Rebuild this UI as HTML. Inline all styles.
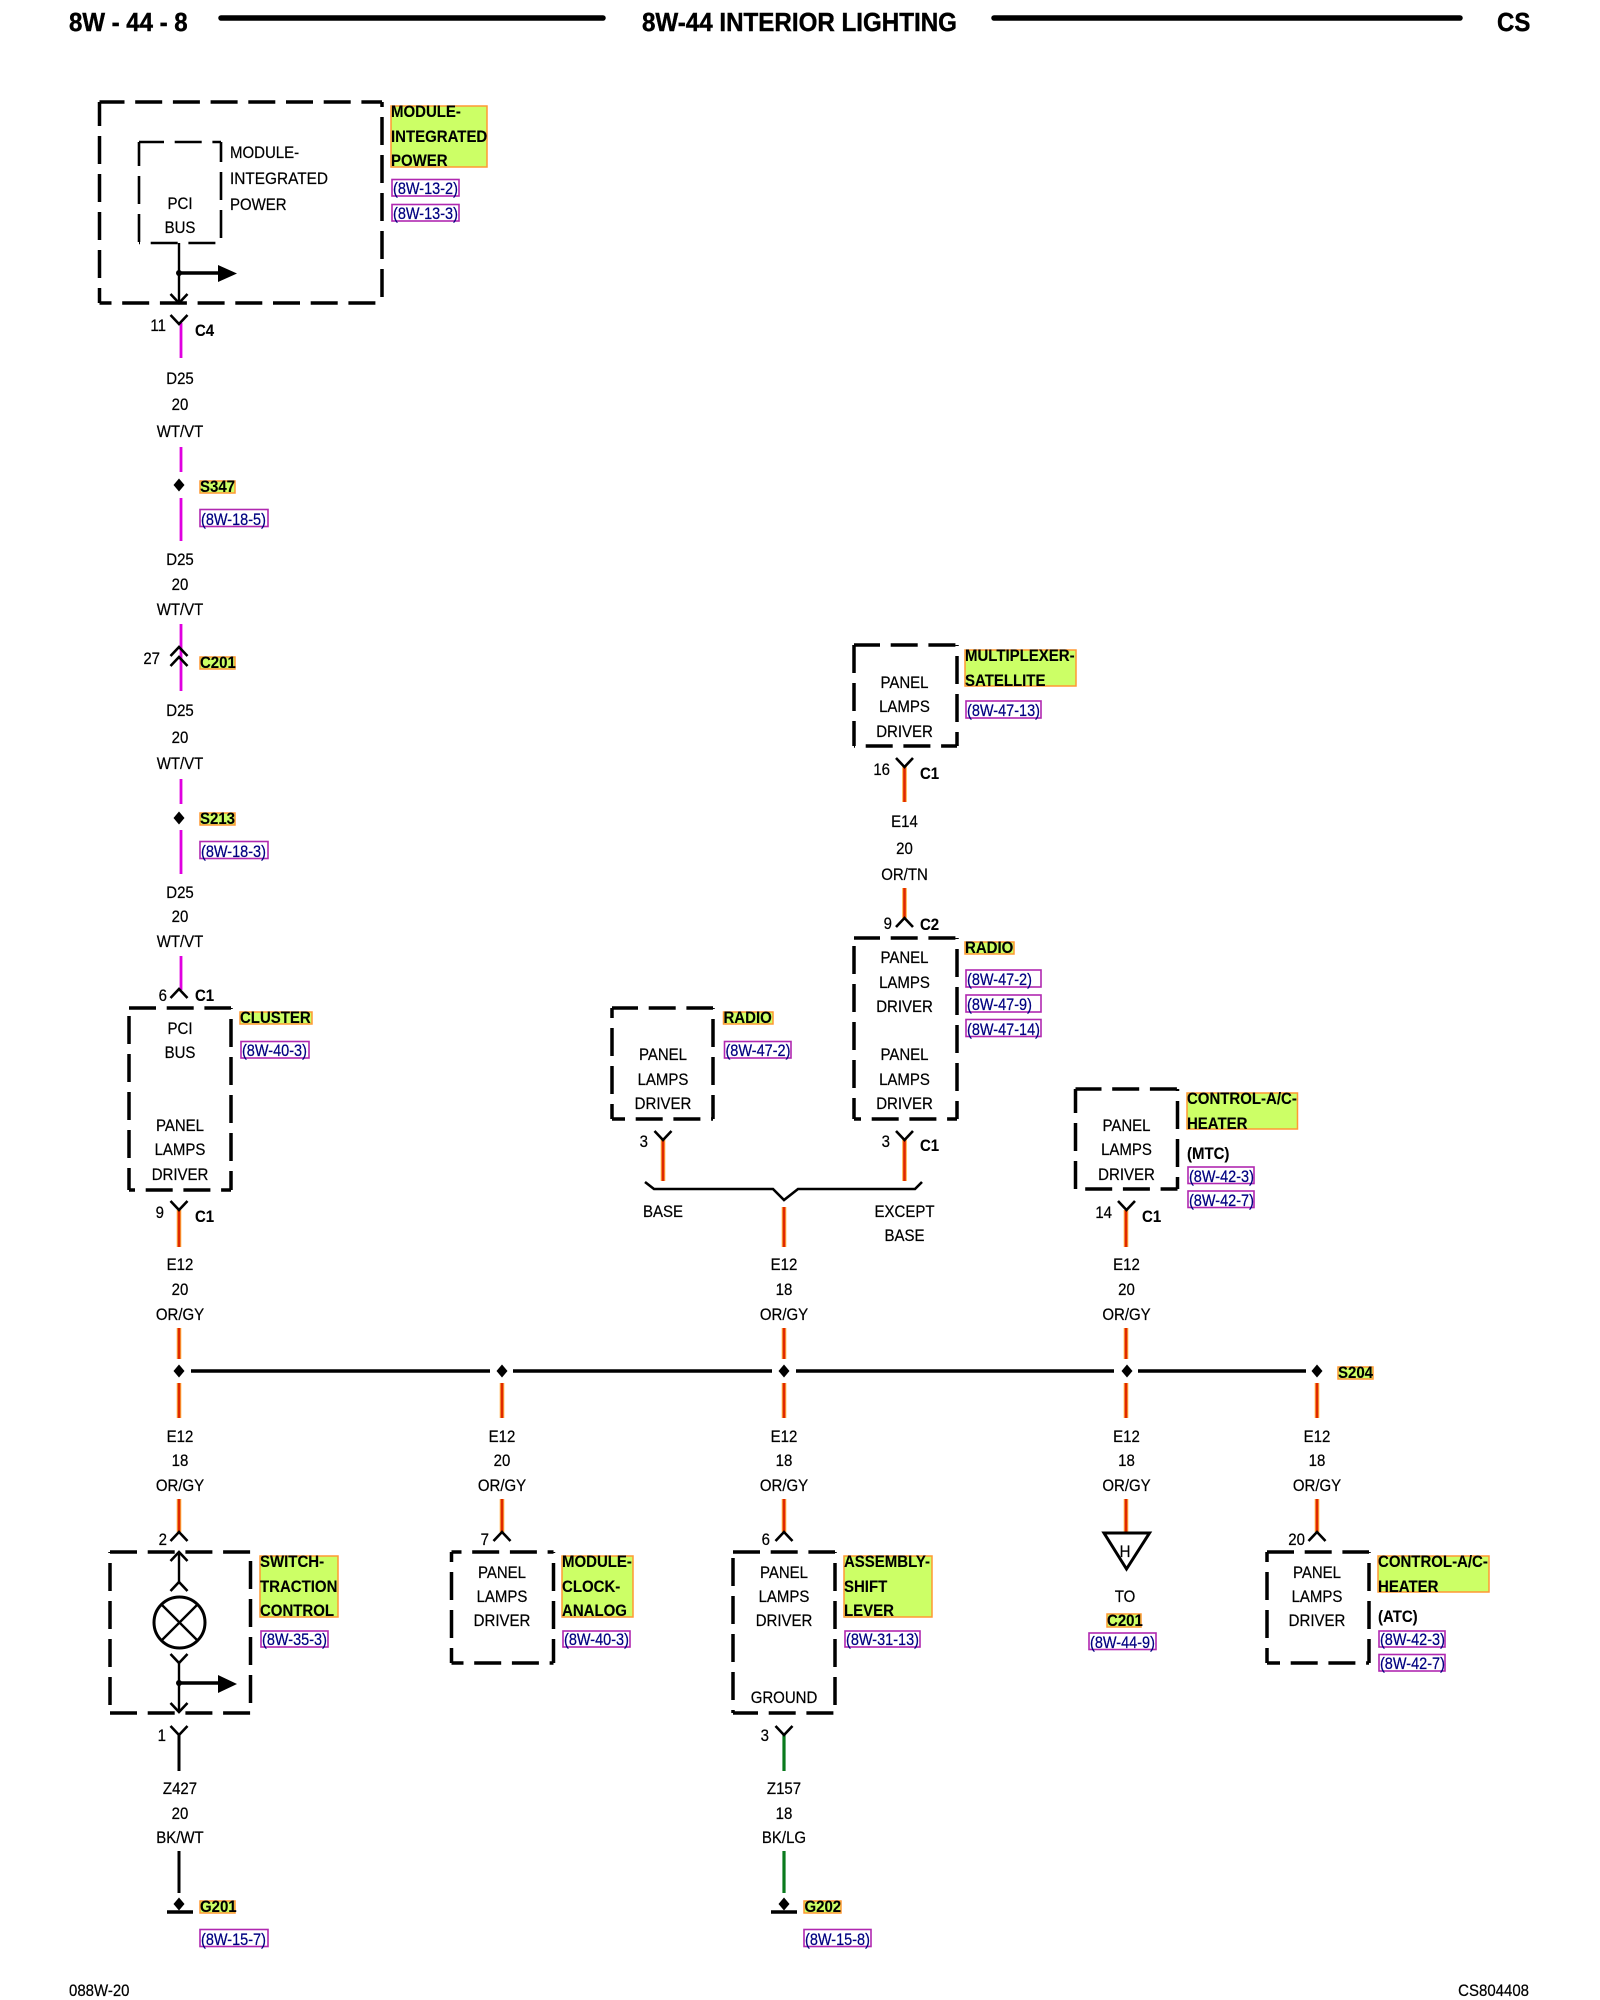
<!DOCTYPE html>
<html><head><meta charset="utf-8"><title>8W-44 Interior Lighting</title>
<style>
html,body{margin:0;padding:0;background:#fff}
svg{display:block}
text{font-family:"Liberation Sans",sans-serif;font-size:15px;fill:#000;stroke:#000;stroke-width:.2;transform-box:fill-box;transform-origin:50% 81%;transform:scaleY(1.12)}
.c{text-anchor:middle}
.e{text-anchor:end}
.b{font-weight:700;fill:#000;stroke-width:.1}
.r{font-size:14.5px;fill:#000080;stroke:#000080;transform:scaleY(1.16)}
.H{font-size:24px;font-weight:700;fill:#000;stroke-width:.4;transform:scaleY(1.06)}
.h,.v,.hi,.vi{fill:none;stroke:#000;stroke-width:3.5}
.h{stroke-dasharray:27 10.7}
.v{stroke-dasharray:28 10}
.l{fill:#ccff66;stroke:#ff9933;stroke-width:1.5}
.f{fill:#fff;stroke:#b028b0;stroke-width:1.6}
.k{fill:none;stroke:#000;stroke-width:2.6}
</style></head>
<body>
<svg xmlns="http://www.w3.org/2000/svg" width="1600" height="2000" viewBox="0 0 1600 2000">
<defs>
<path id="d" d="M0-6.500L5.500 0 0 6.500-5.500 0Z"/>
<path id="u" class="k" d="M-8.5 9L0 0 8.5 9"/>
<path id="y" class="k" d="M-8.5-9L0 0 8.5-9"/>
</defs>
<rect width="1600" height="2000" fill="#fff"/>

<!-- header -->
<text class="H" x="69" y="31">8W - 44 - 8</text>
<text class="H" x="642" y="31" textLength="315" lengthAdjust="spacingAndGlyphs">8W-44 INTERIOR LIGHTING</text>
<text class="H" x="1497" y="31">CS</text>
<path d="M221 18H603M994 18H1460" stroke="#000" stroke-width="5.5" stroke-linecap="round" fill="none"/>
<text x="69" y="1996">088W-20</text>
<text class="e" x="1529" y="1996">CS804408</text>

<!-- magenta wires -->
<path d="M181 323V358M181 447V472M181 498V541M181 624V691M181 779V804M181 830V874M181 956V990" stroke="#f090f0" stroke-width="3.6" fill="none"/>
<path d="M181 323V358M181 447V472M181 498V541M181 624V691M181 779V804M181 830V874M181 956V990" stroke="#e000e0" stroke-width="2.2" fill="none"/>
<!-- orange wires -->
<path d="M179 1210V1247M179 1328V1359M179 1383V1418M179 1499V1532M502 1383V1418M502 1499V1532M784 1207V1247M784 1328V1359M784 1383V1418M784 1499V1532M1126 1210V1247M1126 1328V1359M1126 1383V1418M1126 1499V1533M1317 1383V1418M1317 1499V1532M663 1139V1181M904.5 1139V1181M904.5 766V802M904.5 888V918" stroke="#ffb040" stroke-width="4.6" fill="none"/>
<path d="M179 1210V1247M179 1328V1359M179 1383V1418M179 1499V1532M502 1383V1418M502 1499V1532M784 1207V1247M784 1328V1359M784 1383V1418M784 1499V1532M1126 1210V1247M1126 1328V1359M1126 1383V1418M1126 1499V1533M1317 1383V1418M1317 1499V1532M663 1139V1181M904.5 1139V1181M904.5 766V802M904.5 888V918" stroke="#e02800" stroke-width="2.6" fill="none"/>
<!-- black / green wires -->
<path d="M179 1735V1771M179 1851V1893" stroke="#000" stroke-width="3" fill="none"/>
<path d="M784 1735V1771M784 1851V1893" stroke="#0a7a1e" stroke-width="3.2" fill="none"/>
<!-- bus -->
<path d="M191 1371H490M513 1371H772M796 1371H1114M1138 1371H1306" stroke="#000" stroke-width="3.6" fill="none"/>
<use href="#d" x="179" y="485"/><use href="#d" x="179" y="818"/>
<use href="#d" x="179" y="1371"/><use href="#d" x="502" y="1371"/><use href="#d" x="784" y="1371"/><use href="#d" x="1127" y="1371"/><use href="#d" x="1317" y="1371"/>
<use href="#d" x="179" y="1904"/><use href="#d" x="784" y="1904"/>
<path d="M167 1912H193M771 1912H797" stroke="#000" stroke-width="3.5" fill="none"/>

<!-- Main module box -->
<path class="h" stroke-dashoffset="2" d="M99.5 102H382"/>
<path class="v" stroke-dashoffset="4" d="M99.5 102V303"/>
<path class="v" stroke-dashoffset="23" d="M382 102V303"/>
<path class="h" stroke-dashoffset="15" d="M99.5 303H382"/>
<path class="h" style="stroke-width:2.6" stroke-dashoffset="2" d="M139 142H221"/>
<path class="v" style="stroke-width:2.6" stroke-dashoffset="4" d="M139 142V243"/>
<path class="v" style="stroke-width:2.6" stroke-dashoffset="8" d="M221 142V243"/>
<path class="h" style="stroke-width:2.6" stroke-dashoffset="26" d="M139 243H221"/>
<path d="M179 243V302" stroke="#000" stroke-width="2.4" fill="none"/>
<path d="M179 273H220" stroke="#000" stroke-width="3.5" fill="none"/>
<circle cx="179" cy="273" r="3"/>
<path d="M218 265L237 273.5 218 282Z"/>
<use href="#y" x="179" y="303"/>
<text x="230" y="158">MODULE-</text><text x="230" y="184" textLength="98" lengthAdjust="spacingAndGlyphs">INTEGRATED</text><text x="230" y="210">POWER</text>
<text class="c" x="180" y="209">PCI</text><text class="c" x="180" y="233">BUS</text>
<rect class="l" x="391" y="106" width="96" height="61"/>
<text class="b" x="391" y="117">MODULE-</text><text class="b" x="391" y="142">INTEGRATED</text><text class="b" x="391" y="166">POWER</text>
<rect class="f" x="392" y="179.500" width="67" height="16.500"/><text class="r" x="393" y="194">(8W-13-2)</text>
<rect class="f" x="392" y="204.500" width="67" height="16.500"/><text class="r" x="393" y="219">(8W-13-3)</text>

<!-- D25 column -->
<use href="#y" x="179" y="324"/>
<text class="e" x="166" y="331">11</text><text class="b" x="195" y="336">C4</text>
<text class="c" x="180" y="384">D25</text><text class="c" x="180" y="410">20</text><text class="c" x="180" y="437">WT/VT</text>
<rect class="l" x="200" y="481" width="35" height="12"/><text class="b" x="200" y="492">S347</text>
<rect class="f" x="200" y="509.500" width="68" height="17"/><text class="r" x="201" y="525">(8W-18-5)</text>
<text class="c" x="180" y="565">D25</text><text class="c" x="180" y="590">20</text><text class="c" x="180" y="615">WT/VT</text>
<use href="#u" x="179" y="647"/><use href="#u" x="179" y="657"/>
<text class="e" x="160" y="664">27</text>
<rect class="l" x="200" y="657" width="35" height="12"/><text class="b" x="200" y="668">C201</text>
<text class="c" x="180" y="716">D25</text><text class="c" x="180" y="743">20</text><text class="c" x="180" y="769">WT/VT</text>
<rect class="l" x="200" y="813" width="35" height="12"/><text class="b" x="200" y="824">S213</text>
<rect class="f" x="200" y="841.500" width="68" height="17"/><text class="r" x="201" y="857">(8W-18-3)</text>
<text class="c" x="180" y="898">D25</text><text class="c" x="180" y="922">20</text><text class="c" x="180" y="947">WT/VT</text>
<use href="#u" x="179" y="989"/>
<text class="e" x="167" y="1001">6</text><text class="b" x="195" y="1001">C1</text>

<!-- Cluster -->
<path class="h" d="M129 1008H231"/>
<path class="v" stroke-dashoffset="30" d="M129 1008V1190"/>
<path class="v" stroke-dashoffset="27" d="M231 1008V1190"/>
<path class="h" stroke-dashoffset="21" d="M129 1190H231"/>
<text class="c" x="180" y="1034">PCI</text><text class="c" x="180" y="1058">BUS</text>
<text class="c" x="180" y="1131">PANEL</text><text class="c" x="180" y="1155">LAMPS</text><text class="c" x="180" y="1180">DRIVER</text>
<rect class="l" x="240" y="1012" width="72" height="12"/><text class="b" x="240" y="1023">CLUSTER</text>
<rect class="f" x="241" y="1041.500" width="68" height="16.500"/><text class="r" x="242" y="1056">(8W-40-3)</text>
<use href="#y" x="179" y="1210"/>
<text class="e" x="164" y="1218">9</text><text class="b" x="195" y="1222">C1</text>
<text class="c" x="180" y="1270">E12</text><text class="c" x="180" y="1295">20</text><text class="c" x="180" y="1320">OR/GY</text>
<text class="c" x="180" y="1442">E12</text><text class="c" x="180" y="1466">18</text><text class="c" x="180" y="1491">OR/GY</text>

<!-- Switch traction control -->
<use href="#u" x="179" y="1532"/>
<text class="e" x="167" y="1545">2</text>
<path class="h" d="M110 1552H250.500"/>
<path class="v" stroke-dashoffset="27" d="M110 1552V1713"/>
<path class="v" stroke-dashoffset="29" d="M250.500 1552V1713"/>
<path class="h" d="M110 1713H252"/>
<use href="#u" x="179" y="1552"/><use href="#u" x="179" y="1582"/>
<path d="M179 1552V1583M179 1663V1712" stroke="#000" stroke-width="2.4" fill="none"/>
<circle cx="179.500" cy="1622.500" r="25.500" fill="#fff" stroke="#000" stroke-width="3"/>
<path d="M161.500 1604.500L197.500 1640.500M197.500 1604.500L161.500 1640.500" stroke="#000" stroke-width="2.4" fill="none"/>
<use href="#y" x="179" y="1663"/><use href="#y" x="179" y="1712"/>
<path d="M179 1683H220" stroke="#000" stroke-width="3.5" fill="none"/>
<circle cx="179" cy="1683" r="3"/>
<path d="M218 1675L237 1684 218 1693Z"/>
<rect class="l" x="260" y="1556" width="78" height="61"/>
<text class="b" x="260" y="1567">SWITCH-</text><text class="b" x="260" y="1592">TRACTION</text><text class="b" x="260" y="1616">CONTROL</text>
<rect class="f" x="261" y="1631" width="67" height="16"/><text class="r" x="262" y="1645">(8W-35-3)</text>
<use href="#y" x="179" y="1735"/>
<text class="e" x="166" y="1741">1</text>
<text class="c" x="180" y="1794">Z427</text><text class="c" x="180" y="1819">20</text><text class="c" x="180" y="1843">BK/WT</text>
<rect class="l" x="200" y="1901" width="35" height="12"/><text class="b" x="200" y="1912">G201</text>
<rect class="f" x="200" y="1929.500" width="68" height="17"/><text class="r" x="201" y="1945">(8W-15-7)</text>

<!-- Clock analog -->
<text class="c" x="502" y="1442">E12</text><text class="c" x="502" y="1466">20</text><text class="c" x="502" y="1491">OR/GY</text>
<use href="#u" x="502" y="1532"/>
<text class="e" x="489" y="1545">7</text>
<path class="h" stroke-dashoffset="17" d="M451.500 1552H553.500"/>
<path class="v" stroke-dashoffset="18" d="M451.500 1552V1663"/>
<path class="v" stroke-dashoffset="27" d="M553.500 1552V1663"/>
<path class="h" stroke-dashoffset="15" d="M451.500 1663H553.500"/>
<text class="c" x="502" y="1578">PANEL</text><text class="c" x="502" y="1602">LAMPS</text><text class="c" x="502" y="1626">DRIVER</text>
<rect class="l" x="562" y="1556" width="71" height="61"/>
<text class="b" x="562" y="1567">MODULE-</text><text class="b" x="562" y="1592">CLOCK-</text><text class="b" x="562" y="1616">ANALOG</text>
<rect class="f" x="563" y="1631" width="67" height="16"/><text class="r" x="564" y="1645">(8W-40-3)</text>

<!-- Radio left -->
<path class="h" stroke-dashoffset="1" d="M612 1008H713"/>
<path class="v" stroke-dashoffset="18" d="M612 1008V1119"/>
<path class="v" stroke-dashoffset="27" d="M713 1008V1119"/>
<path class="h" stroke-dashoffset="14" d="M612 1119H713"/>
<text class="c" x="663" y="1060">PANEL</text><text class="c" x="663" y="1085">LAMPS</text><text class="c" x="663" y="1109">DRIVER</text>
<rect class="l" x="723.500" y="1012" width="49.500" height="12"/><text class="b" x="723.500" y="1023">RADIO</text>
<rect class="f" x="724.500" y="1041.500" width="66.500" height="16.500"/><text class="r" x="725.500" y="1056">(8W-47-2)</text>
<use href="#y" x="663" y="1140"/>
<text class="e" x="648" y="1147">3</text>
<path class="k" d="M645 1182L654 1189H773L784 1200L798 1189H915L922 1182"/>
<text class="c" x="663" y="1217">BASE</text>

<!-- Center col -->
<text class="c" x="784" y="1270">E12</text><text class="c" x="784" y="1295">18</text><text class="c" x="784" y="1320">OR/GY</text>
<text class="c" x="784" y="1442">E12</text><text class="c" x="784" y="1466">18</text><text class="c" x="784" y="1491">OR/GY</text>
<use href="#u" x="784" y="1532"/>
<text class="e" x="770" y="1545">6</text>
<path class="h" d="M733 1552H835"/>
<path class="v" stroke-dashoffset="32" d="M733 1552V1713"/>
<path class="v" stroke-dashoffset="27" d="M835 1552V1713"/>
<path class="h" stroke-dashoffset="2" d="M733 1713H835"/>
<text class="c" x="784" y="1578">PANEL</text><text class="c" x="784" y="1602">LAMPS</text><text class="c" x="784" y="1626">DRIVER</text><text class="c" x="784" y="1703">GROUND</text>
<rect class="l" x="844" y="1556" width="88" height="61"/>
<text class="b" x="844" y="1567">ASSEMBLY-</text><text class="b" x="844" y="1592">SHIFT</text><text class="b" x="844" y="1616">LEVER</text>
<rect class="f" x="845" y="1631" width="75" height="16"/><text class="r" x="846" y="1645">(8W-31-13)</text>
<use href="#y" x="784" y="1735"/>
<text class="e" x="769" y="1741">3</text>
<text class="c" x="784" y="1794">Z157</text><text class="c" x="784" y="1819">18</text><text class="c" x="784" y="1843">BK/LG</text>
<rect class="l" x="804" y="1901" width="37" height="12"/><text class="b" x="804.500" y="1912">G202</text>
<rect class="f" x="804" y="1929.500" width="67" height="17"/><text class="r" x="805" y="1945">(8W-15-8)</text>

<!-- Multiplexer -->
<path class="h" stroke-dashoffset="1" d="M854 645H957"/>
<path class="v" d="M854 645V746"/>
<path class="v" stroke-dashoffset="27" d="M957 645V746"/>
<path class="h" stroke-dashoffset="26" d="M854 746H957"/>
<text class="c" x="904.500" y="688">PANEL</text><text class="c" x="904.500" y="712">LAMPS</text><text class="c" x="904.500" y="737">DRIVER</text>
<rect class="l" x="965" y="650" width="111" height="36"/>
<text class="b" x="965" y="661">MULTIPLEXER-</text><text class="b" x="965" y="686">SATELLITE</text>
<rect class="f" x="966" y="701" width="75" height="17"/><text class="r" x="967" y="716">(8W-47-13)</text>
<use href="#y" x="904.500" y="767"/>
<text class="e" x="890" y="775">16</text><text class="b" x="920" y="779">C1</text>
<text class="c" x="904.500" y="827">E14</text><text class="c" x="904.500" y="854">20</text><text class="c" x="904.500" y="880">OR/TN</text>
<use href="#u" x="904.500" y="918"/>
<text class="e" x="892" y="929">9</text><text class="b" x="920" y="930">C2</text>

<!-- Radio right -->
<path class="h" stroke-dashoffset="1" d="M854 938H957"/>
<path class="v" stroke-dashoffset="30" d="M854 938V1119"/>
<path class="v" stroke-dashoffset="27" d="M957 938V1119"/>
<path class="h" stroke-dashoffset="20" d="M854 1119H957"/>
<text class="c" x="904.500" y="963">PANEL</text><text class="c" x="904.500" y="988">LAMPS</text><text class="c" x="904.500" y="1012">DRIVER</text>
<text class="c" x="904.500" y="1060">PANEL</text><text class="c" x="904.500" y="1085">LAMPS</text><text class="c" x="904.500" y="1109">DRIVER</text>
<rect class="l" x="965" y="942" width="49" height="12"/><text class="b" x="965" y="953">RADIO</text>
<rect class="f" x="966" y="970" width="75" height="17"/><text class="r" x="967" y="985">(8W-47-2)</text>
<rect class="f" x="966" y="995" width="75" height="17"/><text class="r" x="967" y="1010">(8W-47-9)</text>
<rect class="f" x="966" y="1019.500" width="75" height="17"/><text class="r" x="967" y="1035">(8W-47-14)</text>
<use href="#y" x="904.500" y="1140"/>
<text class="e" x="890" y="1147">3</text><text class="b" x="920" y="1151">C1</text>
<text class="c" x="904.500" y="1217">EXCEPT</text><text class="c" x="904.500" y="1241">BASE</text>

<!-- Heater MTC -->
<path class="h" stroke-dashoffset="1" d="M1075.500 1089H1177.500"/>
<path class="v" stroke-dashoffset="4" d="M1075.500 1089V1189"/>
<path class="v" stroke-dashoffset="26" d="M1177.500 1089V1189"/>
<path class="h" stroke-dashoffset="28" d="M1075.500 1189H1177.500"/>
<text class="c" x="1126.500" y="1131">PANEL</text><text class="c" x="1126.500" y="1155">LAMPS</text><text class="c" x="1126.500" y="1180">DRIVER</text>
<rect class="l" x="1187" y="1093" width="110.500" height="36"/>
<text class="b" x="1187" y="1104">CONTROL-A/C-</text><text class="b" x="1187" y="1129">HEATER</text>
<text class="b" x="1187" y="1159">(MTC)</text>
<rect class="f" x="1188" y="1167" width="66" height="16.500"/><text class="r" x="1189" y="1182">(8W-42-3)</text>
<rect class="f" x="1188" y="1191" width="66" height="16.500"/><text class="r" x="1189" y="1206">(8W-42-7)</text>
<use href="#y" x="1126.500" y="1210"/>
<text class="e" x="1112" y="1218">14</text><text class="b" x="1142" y="1222">C1</text>
<text class="c" x="1126.500" y="1270">E12</text><text class="c" x="1126.500" y="1295">20</text><text class="c" x="1126.500" y="1320">OR/GY</text>
<text class="c" x="1126.500" y="1442">E12</text><text class="c" x="1126.500" y="1466">18</text><text class="c" x="1126.500" y="1491">OR/GY</text>
<path d="M1104 1533H1149.500L1126.500 1569Z" fill="none" stroke="#000" stroke-width="3"/>
<text class="c" x="1125" y="1557">H</text>
<text class="c" x="1125" y="1602">TO</text>
<rect class="l" x="1107" y="1614" width="34" height="13"/><text class="b" x="1107" y="1626">C201</text>
<rect class="f" x="1089" y="1633" width="67" height="16.500"/><text class="r" x="1090" y="1648">(8W-44-9)</text>

<!-- S204 / ATC -->
<rect class="l" x="1338" y="1367" width="35" height="12"/><text class="b" x="1338" y="1378">S204</text>
<text class="c" x="1317" y="1442">E12</text><text class="c" x="1317" y="1466">18</text><text class="c" x="1317" y="1491">OR/GY</text>
<use href="#u" x="1317" y="1532"/>
<text class="e" x="1305" y="1545">20</text>
<path class="h" d="M1267 1552H1369"/>
<path class="v" stroke-dashoffset="18" d="M1267 1552V1663"/>
<path class="v" stroke-dashoffset="27" d="M1369 1552V1663"/>
<path class="h" stroke-dashoffset="14" d="M1267 1663H1369"/>
<text class="c" x="1317" y="1578">PANEL</text><text class="c" x="1317" y="1602">LAMPS</text><text class="c" x="1317" y="1626">DRIVER</text>
<rect class="l" x="1378" y="1556" width="111" height="36"/>
<text class="b" x="1378" y="1567">CONTROL-A/C-</text><text class="b" x="1378" y="1592">HEATER</text>
<text class="b" x="1378" y="1622">(ATC)</text>
<rect class="f" x="1379" y="1631" width="66" height="16"/><text class="r" x="1380" y="1645">(8W-42-3)</text>
<rect class="f" x="1379" y="1654.500" width="66" height="16.500"/><text class="r" x="1380" y="1669">(8W-42-7)</text>
</svg>
</body></html>
